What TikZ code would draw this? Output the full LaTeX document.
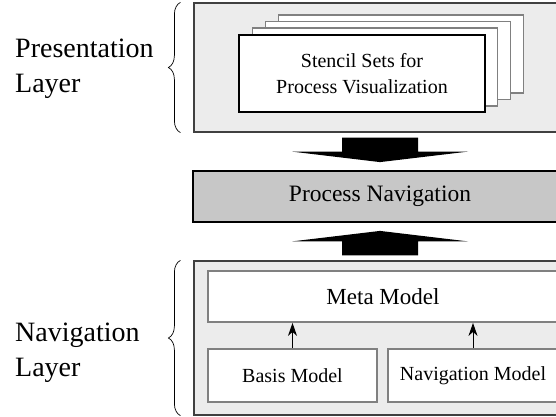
\documentclass[tikz,border=0pt]{standalone}
\usepackage{fontspec}
\setmainfont{Liberation Serif}
\usetikzlibrary{arrows.meta,calc,decorations.pathreplacing}

\begin{document}
\begin{tikzpicture}[x=1pt,y=-1pt,
    layerbox/.style={draw=black!75,fill=gray!15,line width=1.2pt,inner sep=0pt,minimum width=372pt},
    navbox/.style={draw=black,fill=black!22,line width=1.8pt,inner sep=0pt,minimum width=374pt,minimum height=51pt,font=\fontsize{23.5}{28}\selectfont},
    stencilback/.style={draw=gray,fill=white,line width=1.8pt,minimum width=245pt,minimum height=78pt,inner sep=0pt},
    stencilfront/.style={draw=black,fill=white,line width=2.4pt,minimum width=246pt,minimum height=77pt,inner sep=0pt,align=center,font=\fontsize{20}{26}\selectfont},
    modelbox/.style={draw=gray,fill=white,line width=1.8pt,inner sep=0pt,minimum height=53pt,font=\fontsize{20}{24}\selectfont},
    layerlabel/.style={anchor=west,inner sep=0pt,align=left,font=\fontsize{28}{35}\selectfont},
    modelarrow/.style={-{Stealth[length=13pt,width=9pt,inset=4pt]},line width=1pt},
    layerbrace/.style={decorate,decoration={brace,amplitude=12pt},line width=0.7pt}]
  \useasboundingbox (0,0) rectangle (556,416);
  \clip (0,0) rectangle (556,416);

  % presentation layer
  \node[layerbox,minimum height=129pt] (pres) at (380,67.5) {};
  \foreach \i in {3,2,1}
    \node[stencilback] (stencil\i) at ($(362,73.5)+(\i*13,-\i*6.5)$) {};
  \node[stencilfront] (stencil) at (362,73.5) {Stencil Sets for\\Process Visualization};

  % process navigation
  \node[navbox] (nav) at (380,196.5) {Process Navigation};

  % navigation layer
  \node[layerbox,minimum height=154pt] (navlayer) at (380,338) {};
  \node[modelbox,minimum width=350pt,minimum height=51pt,font=\fontsize{23}{28}\selectfont] (meta) at (383,296.5) {Meta Model};
  \node[modelbox,minimum width=169pt] (basis) at (292.5,375.5) {Basis Model};
  \node[modelbox,minimum width=170pt] (navmodel) at (473,375.5) {Navigation Model};
  \draw[modelarrow] (basis.north) -- (basis.north |- meta.south);
  \draw[modelarrow] (navmodel.north) -- (navmodel.north |- meta.south);

  % block arrows
  \coordinate (a1) at ($(pres.south)+(0,5)$);
  \coordinate (a2) at ($(nav.north)+(0,-8)$);
  \fill ($(a1)+(-38,0)$) -- ($(a1)+(38,0)$) -- ($(a1)+(38,14)$) -- ($(a1)+(88,14)$) -- (a2)
    -- ($(a1)+(-88,14)$) -- ($(a1)+(-38,14)$) -- cycle;
  \coordinate (b1) at ($(navlayer.north)+(0,-5)$);
  \coordinate (b2) at ($(nav.south)+(0,8)$);
  \fill ($(b1)+(-38,0)$) -- ($(b1)+(38,0)$) -- ($(b1)+(38,-14)$) -- ($(b1)+(88,-14)$) -- (b2)
    -- ($(b1)+(-88,-14)$) -- ($(b1)+(-38,-14)$) -- cycle;

  % braces and labels
  \draw[layerbrace] ($(pres.south west)+(-13,0)$) -- ($(pres.north west)+(-13,0)$);
  \draw[layerbrace] ($(navlayer.south west)+(-13,0)$) -- ($(navlayer.north west)+(-13,0)$);
  \node[layerlabel] (preslabel) at (15,69) {Presentation\\Layer};
  \node[layerlabel] (navlabel) at (15,352.5) {Navigation\\Layer};
\end{tikzpicture}
\end{document}
